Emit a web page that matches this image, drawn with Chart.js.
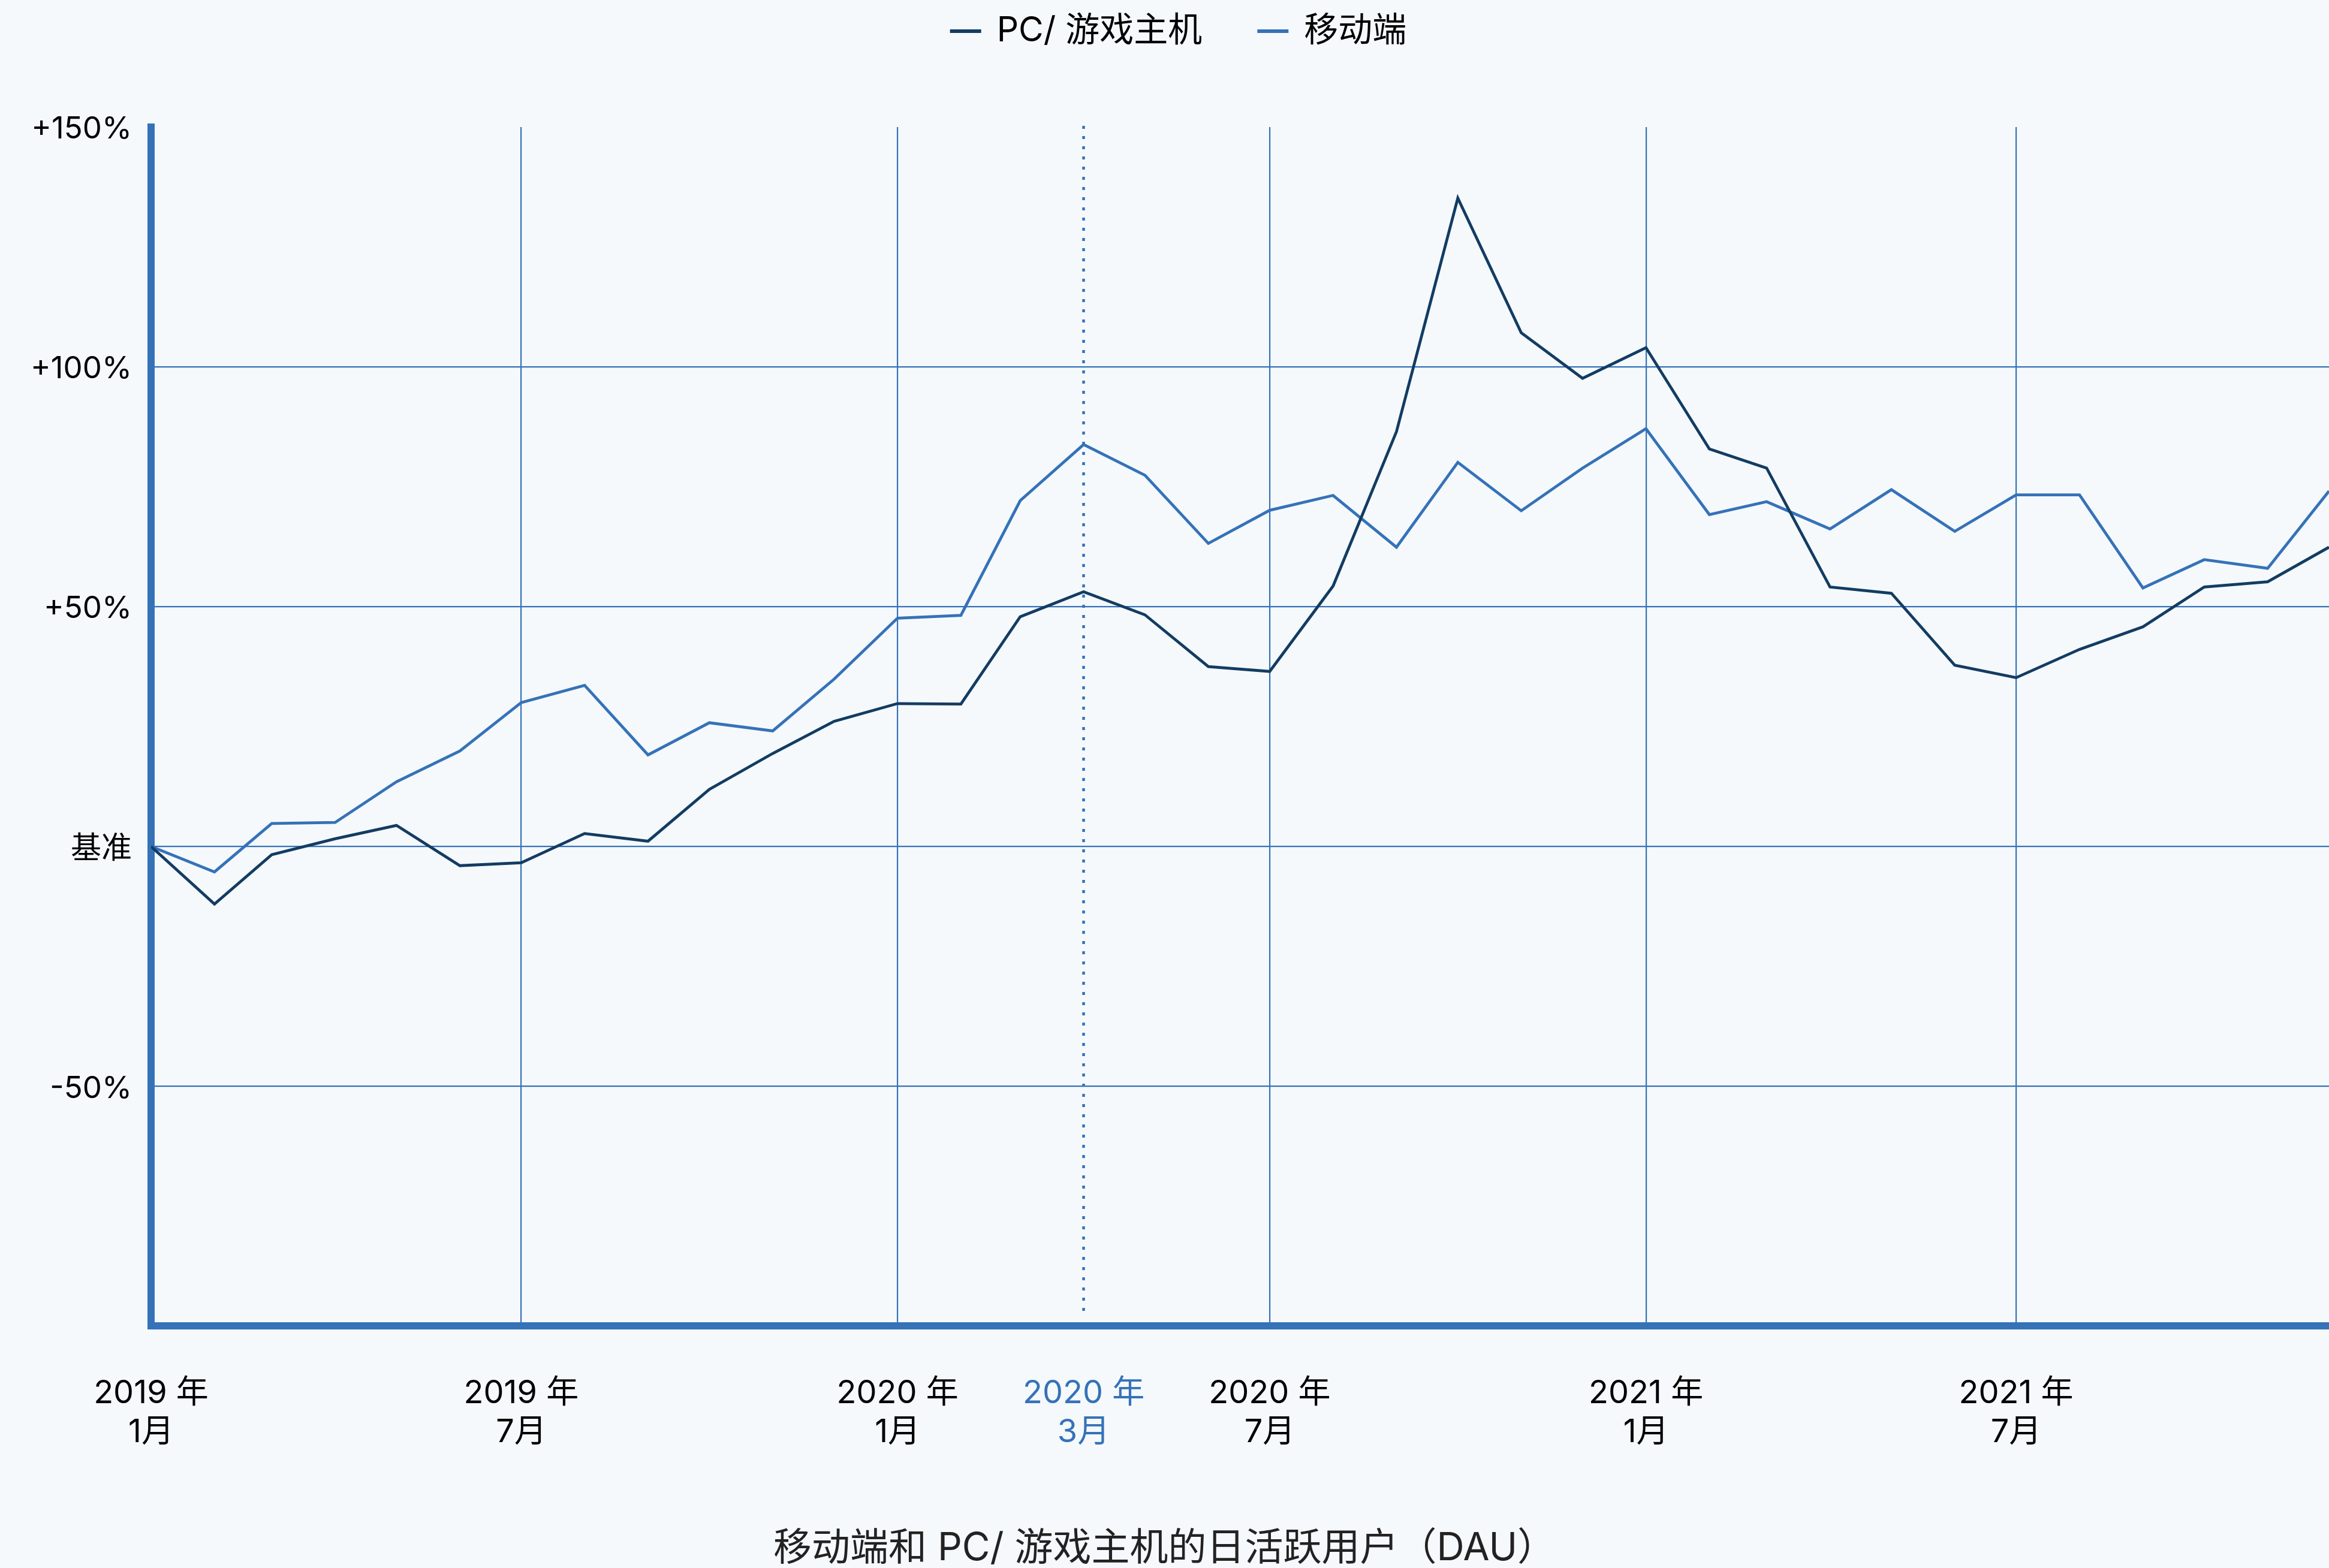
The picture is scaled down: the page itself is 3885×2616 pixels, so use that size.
<!DOCTYPE html>
<html lang="zh-CN">
<head>
<meta charset="utf-8">
<title>移动端和 PC/ 游戏主机的日活跃用户（DAU）</title>
<script src="https://cdn.jsdelivr.net/npm/chart.js@4/dist/chart.umd.min.js"></script>
<style>
	html, body { margin: 0; padding: 0; background: #f5f9fc; }
	#chartWrap { width: 3885px; height: 2616px; position: relative; }
</style>
</head>
<body>
<div id="chartWrap"><canvas id="dauChart"></canvas></div>
<script>

// Monthly DAU change vs. January 2019 baseline (%)
const months = [
	'2019-01', '2019-02', '2019-03', '2019-04', '2019-05', '2019-06',
	'2019-07', '2019-08', '2019-09', '2019-10', '2019-11', '2019-12',
	'2020-01', '2020-02', '2020-03', '2020-04', '2020-05', '2020-06',
	'2020-07', '2020-08', '2020-09', '2020-10', '2020-11', '2020-12',
	'2021-01', '2021-02', '2021-03', '2021-04', '2021-05', '2021-06',
	'2021-07', '2021-08', '2021-09', '2021-10', '2021-11', '2021-12'
];

const pcConsole = [
	0, -12.0, -1.7, 1.6, 4.4, -4.0, -3.4, 2.7, 1.1, 11.9, 19.4, 26.1,
	29.8, 29.7, 47.9, 53.1, 48.3, 37.5, 36.5, 54.3, 86.5, 135.2, 107.1, 97.6,
	104.0, 82.9, 78.9, 54.1, 52.8, 37.8, 35.2, 41.1, 45.8, 54.1, 55.2, 62.4
];

const mobile = [
	0, -5.3, 4.8, 5.0, 13.5, 19.9, 30.0, 33.6, 19.1, 25.8, 24.1, 34.9,
	47.6, 48.2, 72.1, 83.8, 77.4, 63.2, 70.1, 73.2, 62.4, 80.1, 70.0, 78.9,
	87.1, 69.2, 71.9, 66.2, 74.4, 65.7, 73.3, 73.3, 53.9, 59.8, 58.0, 74.1
];

const seriesNames = ['PC/ 游戏主机', '移动端'];

// x-axis ticks (the March 2020 marker sits at the month's end)
const tickMonths = ['2019-01', '2019-07', '2020-01', '2020-04', '2020-07', '2021-01', '2021-07'];
const tickLabels = [
	['2019 年', '1月'], ['2019 年', '7月'], ['2020 年', '1月'], ['2020 年', '3月'],
	['2020 年', '7月'], ['2021 年', '1月'], ['2021 年', '7月']
];
const markerMonth = '2020-04';

const yTickValues = [150, 100, 50, 0, -50];
const yTickLabels = ['+150%', '+100%', '+50%', '基准', '-50%'];

const NAVY = '#133c62';
const BLUE = '#3572b8';
const FONT = 'Inter, "Noto Sans CJK SC", sans-serif';

function dayOf(ym) {
	const [y, m] = ym.split('-').map(Number);
	return (Date.UTC(y, m - 1, 1) - Date.UTC(2019, 0, 1)) / 86400000;
}

const xDays = months.map(dayOf);
const tickDays = tickMonths.map(dayOf);
const markerDay = dayOf(markerMonth);

// dotted vertical marker line
const markerLine = {
	id: 'markerLine',
	beforeDatasetsDraw(chart) {
		const { ctx, chartArea, scales } = chart;
		const x = scales.x.getPixelForValue(markerDay);
		ctx.save();
		ctx.strokeStyle = BLUE;
		ctx.lineWidth = 4.5;
		ctx.setLineDash([5, 12]);
		ctx.beginPath();
		ctx.moveTo(x, chartArea.top - 2);
		ctx.lineTo(x, chartArea.bottom - 20);
		ctx.stroke();
		ctx.restore();
	}
};

// legend drawn as line samples across the top
const topLegend = {
	id: 'topLegend',
	afterDraw(chart) {
		const { ctx, width } = chart;
		const items = chart.data.datasets.map(ds => ({ text: ds.label, color: ds.borderColor }));
		const sample = 52, gap = 26, spacing = 92, y = 52;

		ctx.save();
		ctx.font = `57px ${FONT}`;
		ctx.textBaseline = 'middle';
		ctx.textAlign = 'left';
		const widths = items.map(it => sample + gap + ctx.measureText(it.text).width);
		const total = widths.reduce((a, b) => a + b, 0) + spacing * (items.length - 1);
		let x = (width - total) / 2 + 23;

		items.forEach((it, i) => {
			ctx.fillStyle = it.color;
			ctx.fillRect(x, y - 3, sample, 6);
			ctx.fillStyle = '#000';
			ctx.fillText(it.text, x + sample + gap, y);
			x += widths[i] + spacing;
		});
		ctx.restore();
	}
};

const toPoints = values => values.map((v, i) => ({ x: xDays[i], y: v }));

const config = {
	type: 'line',
	data: {
		datasets: [
			{
				label: seriesNames[0],
				data: toPoints(pcConsole),
				borderColor: NAVY,
				backgroundColor: NAVY,
				borderWidth: 4.8,
				pointRadius: 0,
				tension: 0,
				fill: false
			},
			{
				label: seriesNames[1],
				data: toPoints(mobile),
				borderColor: BLUE,
				backgroundColor: BLUE,
				borderWidth: 4.8,
				pointRadius: 0,
				tension: 0,
				fill: false
			}
		]
	},
	options: {
		responsive: true,
		maintainAspectRatio: false,
		animation: false,
		layout: { padding: { top: 212, left: 0, right: 0, bottom: 0 } },
		plugins: {
			legend: { display: false },
			tooltip: { enabled: false },
			title: {
				display: true,
				position: 'bottom',
				text: '移动端和 PC/ 游戏主机的日活跃用户（DAU）',
				color: '#222',
				font: { family: FONT, size: 64, weight: 'normal', lineHeight: 1.0 },
				padding: { top: 50, bottom: 0 }
			}
		},
		scales: {
			x: {
				type: 'linear',
				min: 0,
				max: xDays[xDays.length - 1],
				afterBuildTicks: scale => { scale.ticks = tickDays.map(v => ({ value: v })); },
				grid: {
					color: ctx => (ctx.tick && (ctx.tick.value === 0 || ctx.tick.value === markerDay)) ? 'rgba(0,0,0,0)' : BLUE,
					lineWidth: 2.2,
					drawTicks: false
				},
				border: { color: BLUE, width: 12 },
				ticks: {
					autoSkip: false,
					maxRotation: 0,
					padding: 80,
					color: ctx => (ctx.tick && ctx.tick.value === markerDay) ? BLUE : '#000',
					font: { family: FONT, size: 54, lineHeight: 1.2 },
					callback: value => tickLabels[tickDays.indexOf(value)]
				}
			},
			y: {
				min: -100,
				max: 150,
				afterBuildTicks: scale => { scale.ticks = [-100, -50, 0, 50, 100, 150].map(v => ({ value: v })); },
				afterFit: scale => { scale.width = 252; },
				grid: {
					color: ctx => (ctx.tick && (ctx.tick.value === 150 || ctx.tick.value === -100)) ? 'rgba(0,0,0,0)' : BLUE,
					lineWidth: 2.2,
					drawTicks: false
				},
				border: { color: BLUE, width: 12 },
				ticks: {
					padding: 32,
					labelOffset: 4,
					color: '#000',
					font: { family: FONT, size: 51 },
					callback: value => {
						const i = yTickValues.indexOf(value);
						return i < 0 ? '' : yTickLabels[i];
					}
				}
			}
		}
	},
	plugins: [markerLine, topLegend]
};

new Chart(document.getElementById('dauChart').getContext('2d'), config);
</script>
</body>
</html>
